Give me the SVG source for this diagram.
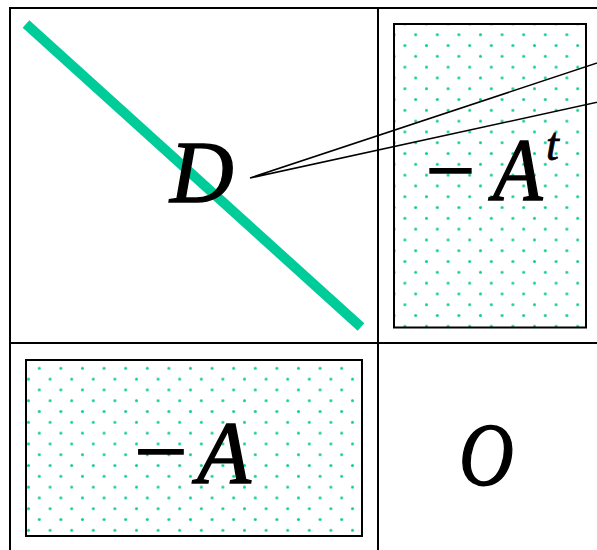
<svg xmlns="http://www.w3.org/2000/svg" width="597" height="550" viewBox="0 0 597 550">
<style>
.grid{stroke:#000;stroke-width:2;fill:none}
.box{stroke:#000;stroke-width:2}
.lbl{font-family:"Liberation Serif","Times New Roman",serif;font-style:italic;font-size:88px;fill:#000;stroke:#000;stroke-width:1.4}
.sup{font-family:"Liberation Serif","Times New Roman",serif;font-style:italic;font-size:46px;fill:#000;stroke:#000;stroke-width:0.8}
.lead{stroke:#000;stroke-width:1.6;fill:none}
.dot{fill:#11cc99}
</style>
<defs>
<pattern id="dotsTR" patternUnits="userSpaceOnUse" x="410.3" y="29.3" width="21.6" height="21.6">
<circle class="dot" cx="5.4" cy="5.4" r="1.5"/>
<circle class="dot" cx="16.2" cy="16.2" r="1.5"/>
</pattern>
<pattern id="dotsBL" patternUnits="userSpaceOnUse" x="33.9" y="362.9" width="21.6" height="21.6">
<circle class="dot" cx="5.4" cy="5.4" r="1.5"/>
<circle class="dot" cx="16.2" cy="16.2" r="1.5"/>
</pattern>
</defs>
<rect width="597" height="550" fill="#fff"/>
<g id="grid">
<path class="grid" d="M9 8H597M10 8V550M378 8V550M10 343H597"/>
</g>
<g id="blockD">
<line x1="26" y1="24" x2="361" y2="327" stroke="#00cc99" stroke-width="10"/>
<text class="lbl" x="170" y="202">D</text>
</g>
<g id="blockAt">
<rect class="box" x="394" y="24" width="192" height="303.5" fill="url(#dotsTR)"/>
<text class="lbl" x="420" y="199.5">−</text>
<text class="lbl" transform="translate(493,0) scale(0.92,1)" x="0" y="199.5">A</text>
<text class="sup" x="546" y="160">t</text>
</g>
<g id="blockA">
<rect class="box" x="26" y="360" width="336" height="176" fill="url(#dotsBL)"/>
<text class="lbl" transform="translate(128,0) scale(1.08,1)" x="0" y="481.5">−</text>
<text class="lbl" x="197" y="481.5">A</text>
</g>
<g id="blockO">
<text class="lbl" transform="translate(459,0) scale(0.86,1)" x="0" y="484">O</text>
</g>
<g id="connectors">
<path class="lead" d="M250 178L612 58M250 178L612 99"/>
</g>
</svg>
